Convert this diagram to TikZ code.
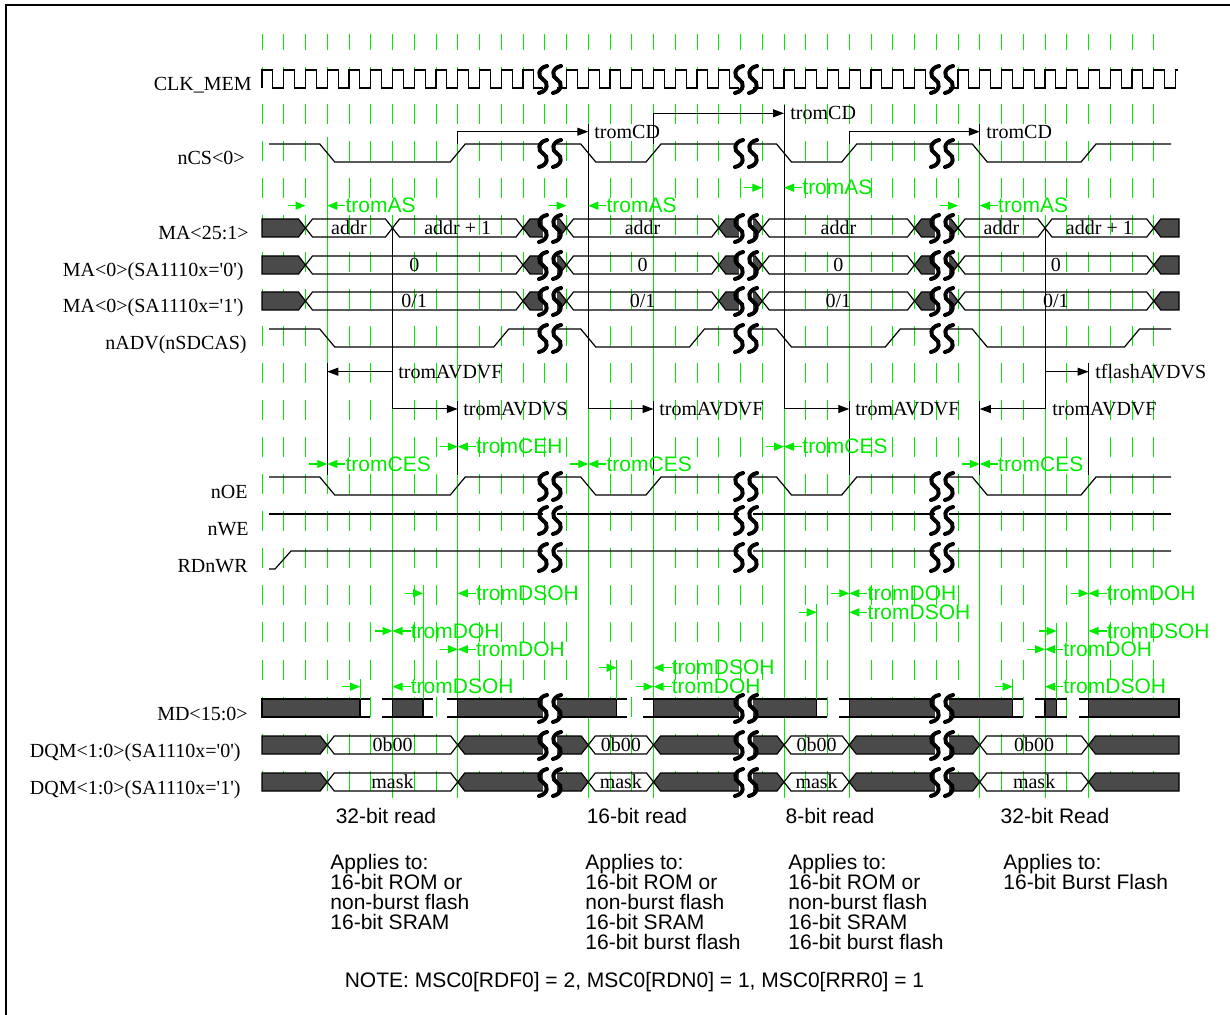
\documentclass[tikz,border=0pt]{standalone}
\usepackage{fontspec}
\setmainfont{Liberation Serif}
\setsansfont{Liberation Sans}
\usetikzlibrary{arrows.meta}
\definecolor{tgreen}{RGB}{0,235,0}
\definecolor{busdark}{RGB}{74,74,74}
% bus segment with crossing ends: left x, right x, top y, style, text
\newcommand\seg[5]{%
  \draw[#4] (#1,#3+9) -- ({#1+7},#3) -- ({#2-7},#3) -- (#2,#3+9) -- ({#2-7},#3+18) -- ({#1+7},#3+18) -- cycle;
  \node[buslbl] at ({(#1+#2)/2},#3+9) {#5};}
% break mark on a row: x, top y
\newcommand\brk[2]{%
  \draw[brkln] ({#1+4},{#2-4}) .. controls ({#1-5.5},{#2-2}) and ({#1-5.5},{#2+7}) .. ({#1},{#2+9.5})
    .. controls ({#1+5.5},{#2+12}) and ({#1+5.5},{#2+21}) .. ({#1-4},{#2+23});}
% green timing pair: tip of right arrow, tip of left arrow, y, text
\newcommand\tmark[4]{%
  \draw[garrow] ({#1-18},#3) -- (#1,#3);
  \draw[garrow] ({#2+18},#3) -- (#2,#3);
  \node[glbl] at ({#2+18},#3) {#4};}

\begin{document}
\begin{tikzpicture}[x=0.5pt,y=-0.5pt,
  sig/.style={line width=0.6pt},
  validbus/.style={line width=0.6pt},
  darkbus/.style={line width=0.6pt,fill=busdark},
  buslbl/.style={font=\fontsize{10}{12}\selectfont,inner sep=0pt},
  signame/.style={font=\fontsize{10}{12}\selectfont,anchor=base east,inner sep=0pt},
  tarrow/.style={line width=0.5pt,-{Triangle[length=5.5pt,width=4pt]}},
  tlbl/.style={font=\fontsize{10}{12}\selectfont,anchor=west,inner sep=0pt},
  garrow/.style={draw=tgreen,line width=0.6pt,-{Triangle[length=5pt,width=4pt]}},
  glbl/.style={text=tgreen,font=\sffamily\fontsize{10.5}{12}\selectfont,anchor=west,inner sep=0pt},
  gridln/.style={draw=tgreen,line width=0.5pt,dash pattern=on 10pt off 8.515pt,dash phase=2pt},
  refln/.style={draw=tgreen,line width=0.5pt},
  brkln/.style={line width=2pt,line cap=round},
  note/.style={font=\sffamily\fontsize{10.5}{12}\selectfont,inner sep=0pt}]
\useasboundingbox (0,0) rectangle (1230,1015);
\clip (0,0) rectangle (1230,1015);
\fill[white] (0,0) rectangle (1230,1015);
\draw[line width=1pt] (6,1040) -- (6,5) -- (1250,5);

% clock grid
\foreach \k in {0,...,41}
  \draw[gridln] ({262+21.75*\k},34) -- ({262+21.75*\k},795);

% reference lines
\draw[refln] (327.25,137) -- (327.25,477);
\foreach \x/\a in {392.5/409, 457.75/145, 588.25/409, 653.5/145, 784/409, 849.25/145, 979.75/145, 1045/409, 1088.5/475}
  \draw[refln] (\x,\a) -- (\x,798);

% black timing lines
\foreach \x/\a/\b in {588.25/124/409, 784/105/409, 979.75/124/145, 392.5/228/409, 1045/228/409,
    327.25/363/475, 457.75/401/475, 653.5/401/475, 849.25/401/475, 979.75/401/475, 1088.5/363/475}
  \draw[line width=0.5pt] (\x,\a) -- (\x,\b);
\draw[tarrow] (457.75,144) |- (588.25,131.7);
\draw[tarrow] (653.5,144) |- (784,113.3);
\draw[tarrow] (849.25,144) |- (979.75,131.7);
\draw[tarrow] (392.5,371.7) -- (327.25,371.7);
\draw[tarrow] (392.5,409) -- (457.75,409);
\draw[tarrow] (588.25,409) -- (653.5,409);
\draw[tarrow] (784,409) -- (849.25,409);
\draw[tarrow] (1045,371.7) -- (1088.5,371.7);
\draw[tarrow] (1045,409) -- (979.75,409);
\node[tlbl] (cd1) at (594,131.7) {tromCD};
\node[tlbl] (cd2) at (790,113.3) {tromCD};
\node[tlbl] (cd3) at (986,131.7) {tromCD};
\node[tlbl] (avf1) at (398,371.7) {tromAVDVF};
\node[tlbl] (avs1) at (463,409) {tromAVDVS};
\node[tlbl] (avf2) at (659,409) {tromAVDVF};
\node[tlbl] (avf3) at (855,409) {tromAVDVF};
\node[tlbl] (fas) at (1095,371.7) {tflashAVDVS};
\node[tlbl] (avf4) at (1052,409) {tromAVDVF};

% CLK_MEM
\draw[sig] (262,88) \foreach \k in {0,...,41} { -- ({262+21.75*\k},88) -- ({262+21.75*\k},70)
    -- ({272.875+21.75*\k},70) -- ({272.875+21.75*\k},88) } -- (1175.5,88) -- (1175.5,70) -- (1178,70);

% nCS<0> and nOE
\foreach \t in {144,477}
  \draw[sig] (269,\t) -- (319.75,\t) -- (334.75,\t+18) -- (450.25,\t+18) -- (465.25,\t) -- (580.75,\t)
    -- (595.75,\t+18) -- (646,\t+18) -- (661,\t) -- (776.5,\t) -- (791.5,\t+18) -- (841.75,\t+18)
    -- (856.75,\t) -- (972.25,\t) -- (987.25,\t+18) -- (1081,\t+18) -- (1096,\t) -- (1171,\t);

% nADV(nSDCAS)
\draw[sig] (269,329) -- (319.75,329) -- (334.75,347) -- (493.75,347) -- (508.75,329) -- (580.75,329)
  -- (595.75,347) -- (689.5,347) -- (704.5,329) -- (776.5,329) -- (791.5,347) -- (885.25,347)
  -- (900.25,329) -- (972.25,329) -- (987.25,347) -- (1124.5,347) -- (1139.5,329) -- (1171,329);

% nWE, RDnWR
\draw[sig] (269,514) -- (1171,514);
\draw[sig] (269,569) -- (275,569) -- (291,551) -- (1171,551);

% MA<25:1>
\draw[darkbus] (262,219) -- (298.5,219) -- (305.5,228) -- (298.5,237) -- (262,237) -- cycle;
\foreach \a/\b/\s/\l in {305.5/392.5/validbus/addr, 392.5/523/validbus/addr + 1, 523/566.5/darkbus/{},
    566.5/718.75/validbus/addr, 718.75/762.25/darkbus/{}, 762.25/914.5/validbus/addr,
    914.5/958/darkbus/{}, 958/1045/validbus/addr, 1045/1153.75/validbus/addr + 1}
  \seg{\a}{\b}{219}{\s}{\l};
\draw[darkbus] (1179,219) -- (1160.75,219) -- (1153.75,228) -- (1160.75,237) -- (1179,237) -- cycle;

% MA<0>
\foreach \t/\l in {256/0, 292/0\slash1} {
  \draw[darkbus] (262,\t) -- (298.5,\t) -- (305.5,\t+9) -- (298.5,\t+18) -- (262,\t+18) -- cycle;
  \foreach \a/\b/\s/\m in {305.5/523/validbus/\l, 523/566.5/darkbus/{}, 566.5/718.75/validbus/\l,
      718.75/762.25/darkbus/{}, 762.25/914.5/validbus/\l, 914.5/958/darkbus/{}, 958/1153.75/validbus/\l}
    \seg{\a}{\b}{\t}{\s}{\m};
  \draw[darkbus] (1179,\t) -- (1160.75,\t) -- (1153.75,\t+9) -- (1160.75,\t+18) -- (1179,\t+18) -- cycle;
}

% MD<15:0>
\foreach \a/\b in {262/360, 392.5/423, 457.75/616.7, 653.5/816.7, 849.25/1012.7, 1045/1056.7, 1088.5/1179}
  \draw[darkbus] (\a,699) rectangle (\b,717);
\foreach \a/\b in {360/370, 381.7/392.5, 423/433.3, 446.7/457.75, 616.7/626.7, 643.3/653.5,
    816.7/827.3, 839.3/849.25, 1012.7/1022.7, 1035/1045, 1056.7/1066.7, 1079.3/1088.5}
  \draw[sig] (\a,699) -- (\b,699) (\a,717) -- (\b,717);

% DQM<1:0>
\foreach \t/\l in {736/0b00, 773/mask} {
  \draw[darkbus] (262,\t) -- (320.25,\t) -- (327.25,\t+9) -- (320.25,\t+18) -- (262,\t+18) -- cycle;
  \foreach \a/\b/\s/\m in {327.25/457.75/validbus/\l, 457.75/588.25/darkbus/{}, 588.25/653.5/validbus/\l,
      653.5/784/darkbus/{}, 784/849.25/validbus/\l, 849.25/979.75/darkbus/{}, 979.75/1088.5/validbus/\l}
    \seg{\a}{\b}{\t}{\s}{\m};
  \draw[darkbus] (1179,\t) -- (1095.5,\t) -- (1088.5,\t+9) -- (1095.5,\t+18) -- (1179,\t+18) -- cycle;
}

% breaks
\foreach \c in {550,746,942}
  \foreach \t in {70,144,219,256,292,329,477,511,548,699,736,773} {
    \fill[white] ({\c-7},{\t-1}) rectangle ({\c+7},{\t+19});
    \brk{\c-7}{\t}
    \brk{\c+7}{\t}
  }

% green timing marks
\foreach \a/\b/\y/\l in {305.5/327.25/205.7/tromAS, 566.5/588.25/205.7/tromAS, 762.25/784/187.7/tromAS,
    958/979.75/205.7/tromAS, 327.25/327.25/464/tromCES, 457.75/457.75/446.7/tromCEH,
    588.25/588.25/464/tromCES, 784/784/446.7/tromCES, 979.75/979.75/464/tromCES,
    423/457.75/593.3/tromDSOH, 392.5/392.5/631/tromDOH, 457.75/457.75/649.3/tromDOH,
    360/392.5/686.7/tromDSOH, 616.7/653.5/667.7/tromDSOH, 653.5/653.5/686.7/tromDOH,
    849.25/849.25/593.3/tromDOH, 816.7/849.25/612.3/tromDSOH, 1088.5/1088.5/593.3/tromDOH,
    1056.7/1088.5/631/tromDSOH, 1045/1045/649.3/tromDOH, 1012.7/1045/686.7/tromDSOH}
  \tmark{\a}{\b}{\y}{\l};
\foreach \x/\y in {360/679, 423/585, 616.7/660, 816.7/604, 1012.7/679, 1056.7/623}
  \draw[refln] (\x,\y) -- (\x,699);

% signal names
\node[signame] (nclk) at (252,91) {CLK\_MEM};
\node[signame] (ncs) at (245,165) {nCS<0>};
\node[signame] (nma) at (249,240) {MA<25:1>};
\node[signame] (nma0) at (244,277) {MA<0>(SA1110x=\textquotesingle 0\textquotesingle)};
\node[signame] (nma1) at (244,313) {MA<0>(SA1110x=\textquotesingle 1\textquotesingle)};
\node[signame] (nadv) at (247,350) {nADV(nSDCAS)};
\node[signame] (noe) at (248,498) {nOE};
\node[signame] (nwe) at (249,535) {nWE};
\node[signame] (nrd) at (248,572) {RDnWR};
\node[signame] (nmd) at (248,720) {MD<15:0>};
\node[signame] (ndqm0) at (241,757) {DQM<1:0>(SA1110x=\textquotesingle 0\textquotesingle)};
\node[signame] (ndqm1) at (241,794) {DQM<1:0>(SA1110x=\textquotesingle 1\textquotesingle)};

% cycle notes
\node[note,anchor=base] (c1) at (386,823.5) {32-bit read};
\node[note,anchor=base] (c2) at (637,823.5) {16-bit read};
\node[note,anchor=base] (c3) at (830,823.5) {8-bit read};
\node[note,anchor=base] (c4) at (1055,823.5) {32-bit Read};
\foreach \l [count=\i from 0] in {Applies to:, 16-bit ROM or, non-burst flash, 16-bit SRAM}
  \node[note,anchor=base west] (a1-\i) at (330,{869.5+20*\i}) {\l};
\foreach \l [count=\i from 0] in {Applies to:, 16-bit ROM or, non-burst flash, 16-bit SRAM, 16-bit burst flash}
  \node[note,anchor=base west] (a2-\i) at (585,{869.5+20*\i}) {\l};
\foreach \l [count=\i from 0] in {Applies to:, 16-bit ROM or, non-burst flash, 16-bit SRAM, 16-bit burst flash}
  \node[note,anchor=base west] (a3-\i) at (788,{869.5+20*\i}) {\l};
\foreach \l [count=\i from 0] in {Applies to:, 16-bit Burst Flash}
  \node[note,anchor=base west] (a4-\i) at (1003,{869.5+20*\i}) {\l};
\node[note,anchor=base] (note) at (634.5,987.5) {NOTE: MSC0[RDF0] = 2, MSC0[RDN0] = 1, MSC0[RRR0] = 1};
\end{tikzpicture}
\end{document}
